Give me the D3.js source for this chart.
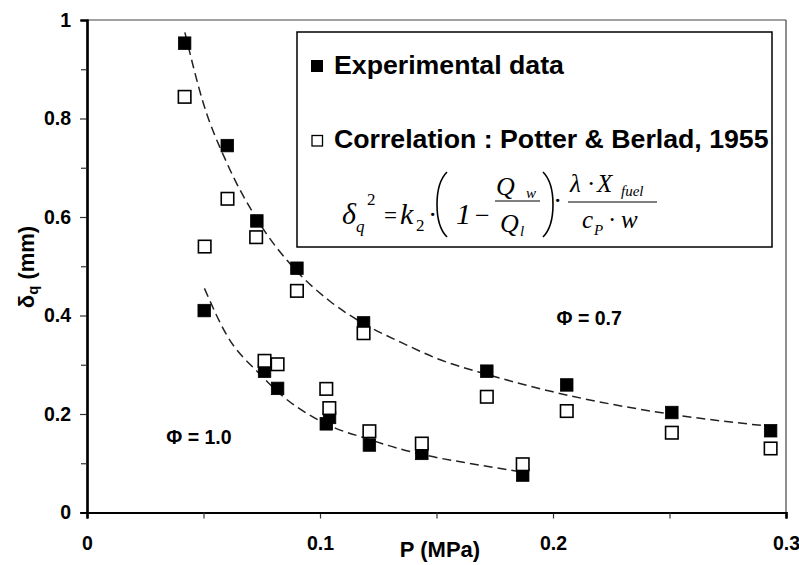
<!DOCTYPE html>
<html>
<head>
<meta charset="utf-8">
<script src="https://cdn.jsdelivr.net/npm/d3@7/dist/d3.min.js"></script>
<style>
  html, body { margin: 0; padding: 0; background: #fff; }
  svg { display: block; }
</style>
</head>
<body>
<svg id="chart" width="799" height="565"></svg>
<script>
// ---- data ----
const exp07P = [0.0419, 0.0602, 0.0729, 0.0901, 0.1187, 0.1716, 0.2059, 0.2510, 0.2934];
const exp07D = [0.953, 0.745, 0.592, 0.496, 0.385, 0.287, 0.259, 0.203, 0.166];
const cor07P = [0.0419, 0.0603, 0.0726, 0.0901, 0.1187, 0.1716, 0.2059, 0.2510, 0.2934];
const cor07D = [0.844, 0.637, 0.559, 0.450, 0.364, 0.235, 0.206, 0.162, 0.130];
const exp10P = [0.0503, 0.0762, 0.0818, 0.1027, 0.1041, 0.1212, 0.1437, 0.1870];
const exp10D = [0.410, 0.287, 0.252, 0.180, 0.193, 0.137, 0.120, 0.076];
const cor10P = [0.0505, 0.0762, 0.0818, 0.1027, 0.1040, 0.1212, 0.1437, 0.1870];
const cor10D = [0.540, 0.308, 0.301, 0.251, 0.212, 0.165, 0.140, 0.098];
// trend curves
const fit07P = [0.042, 0.05, 0.06, 0.073, 0.09, 0.104, 0.12, 0.135, 0.15, 0.172, 0.2, 0.25, 0.293];
const fit07D = [0.975, 0.83, 0.71, 0.595, 0.49, 0.43, 0.38, 0.345, 0.313, 0.28, 0.245, 0.2, 0.175];
const fit10P = [0.0504, 0.06, 0.0744, 0.0843, 0.0958, 0.1058, 0.1201, 0.1344, 0.1487, 0.165, 0.187];
const fit10D = [0.455, 0.36, 0.28, 0.235, 0.197, 0.173, 0.15, 0.129, 0.113, 0.099, 0.082];
const xMajor = [0, 0.1, 0.2, 0.3];
const xMajorLabels = ["0", "0.1", "0.2", "0.3"];
const xMinor = [0.05, 0.15, 0.25];
const yMajor = [0, 0.2, 0.4, 0.6, 0.8, 1];
const yMajorLabels = ["0", "0.2", "0.4", "0.6", "0.8", "1"];
const yMinor = [0.1, 0.3, 0.5, 0.7, 0.9];
const phiLabels = ["Φ = 0.7", "Φ = 1.0"];
const phiPos = [[0.2015, 0.38], [0.034, 0.14]];
const legendLabels = ["Experimental data", "Correlation : Potter & Berlad, 1955"];

// ---- layout ----
const L = 87, R = 786, T = 20, B = 512.5;
const sans = "'Liberation Sans', Arial, Helvetica, sans-serif";
const serif = "'Liberation Serif', 'Times New Roman', serif";
const svg = d3.select("#chart");
const x = d3.scaleLinear().domain([0, 0.3]).range([L, R]);
const y = d3.scaleLinear().domain([0, 1]).range([B, T]);

// frame (top & right thin)
svg.append("line").attr("x1", L).attr("x2", R).attr("y1", T).attr("y2", T)
  .attr("stroke", "#444").attr("stroke-width", 1.2);
svg.append("line").attr("x1", R).attr("x2", R).attr("y1", T).attr("y2", B)
  .attr("stroke", "#444").attr("stroke-width", 1.2);

// axes
const xAxis = d3.axisBottom(x).tickValues(xMajor).tickSize(6)
  .tickFormat((d, i) => xMajorLabels[i]).tickPadding(18);
const gx = svg.append("g").attr("transform", `translate(0,${B})`).call(xAxis);
const xAxisMinor = d3.axisBottom(x).tickValues(xMinor).tickSize(6).tickFormat("");
const gxm = svg.append("g").attr("transform", `translate(0,${B})`).call(xAxisMinor);
const yAxis = d3.axisLeft(y).tickValues(yMajor).tickSize(7)
  .tickFormat((d, i) => yMajorLabels[i]).tickPadding(9);
const gy = svg.append("g").attr("transform", `translate(${L},0)`).call(yAxis);
const yAxisMinor = d3.axisLeft(y).tickValues(yMinor).tickSize(6).tickFormat("");
const gym = svg.append("g").attr("transform", `translate(${L},0)`).call(yAxisMinor);
[gx, gxm, gy, gym].forEach(g => {
  g.select(".domain").attr("stroke", "#000").attr("stroke-width", 2.2);
  g.selectAll(".tick line").attr("stroke", "#333").attr("stroke-width", 1.2);
  g.selectAll("text").attr("font-family", sans).attr("font-weight", "bold")
    .attr("font-size", 19.5).attr("fill", "#000");
});
gx.selectAll("text").attr("dy", "0.71em");

// axis titles
svg.append("text").attr("x", 440).attr("y", 557).attr("text-anchor", "middle")
  .attr("font-family", sans).attr("font-weight", "bold").attr("font-size", 22)
  .text("P (MPa)");
const yt = svg.append("text").attr("transform", "translate(34,267) rotate(-90)")
  .attr("text-anchor", "middle").attr("font-family", sans).attr("font-weight", "bold")
  .attr("font-size", 22);
yt.append("tspan").text("δ");
yt.append("tspan").attr("font-size", 15).attr("dy", 4).text("q");
yt.append("tspan").attr("dy", -4).text(" (mm)");

// trend curves
const line = d3.line().x(d => x(d[0])).y(d => y(d[1])).curve(d3.curveMonotoneX);
[[fit07P, fit07D], [fit10P, fit10D]].forEach(([ps, ds]) => {
  svg.append("path").datum(ps.map((p, i) => [p, ds[i]]))
    .attr("d", line).attr("fill", "none").attr("stroke", "#222")
    .attr("stroke-width", 1.5).attr("stroke-dasharray", "9,5");
});

// markers
const S = 12.5;
function squares(ps, ds, filled) {
  svg.append("g").selectAll("rect").data(ps.map((p, i) => [p, ds[i]])).join("rect")
    .attr("x", d => x(d[0]) - S / 2).attr("y", d => y(d[1]) - S / 2)
    .attr("width", S).attr("height", S)
    .attr("fill", filled ? "#000" : "#fff")
    .attr("stroke", "#000").attr("stroke-width", filled ? 0.8 : 1.6);
}
squares(exp07P, exp07D, true);
squares(exp10P, exp10D, true);
squares(cor07P, cor07D, false);
squares(cor10P, cor10D, false);

// phi labels
phiLabels.forEach((t, i) => {
  svg.append("text").attr("x", x(phiPos[i][0])).attr("y", y(phiPos[i][1]))
    .attr("font-family", sans).attr("font-weight", "bold").attr("font-size", 19.5).text(t);
});

// legend
const lg = svg.append("g");
lg.append("rect").attr("x", 297).attr("y", 32).attr("width", 475).attr("height", 215)
  .attr("fill", "#fff").attr("stroke", "#000").attr("stroke-width", 1.5);
lg.append("rect").attr("x", 311).attr("y", 60).attr("width", 12).attr("height", 12).attr("fill", "#000");
lg.append("rect").attr("x", 312).attr("y", 135.5).attr("width", 10.5).attr("height", 10.5)
  .attr("fill", "#fff").attr("stroke", "#000").attr("stroke-width", 1.3);
lg.append("text").attr("x", 334).attr("y", 74).attr("font-family", sans).attr("font-weight", "bold")
  .attr("font-size", 26.7).text(legendLabels[0]);
lg.append("text").attr("x", 334).attr("y", 148).attr("font-family", sans).attr("font-weight", "bold")
  .attr("font-size", 26.7).text(legendLabels[1]);

// formula
function ft(tx, ty, s, size, italic) {
  lg.append("text").attr("x", tx).attr("y", ty).attr("font-family", serif)
    .attr("font-size", size).attr("font-style", italic ? "italic" : "normal").text(s);
}
ft(342, 224, "δ", 30, true);
ft(356, 232, "q", 17, true);
ft(367, 205, "2", 17, false);
ft(384, 223, "=", 23, false);
ft(400, 224, "k", 30, true);
ft(416, 231, "2", 17, false);
ft(428, 224, "·", 28, false);
ft(456, 224, "1", 30, true);
ft(475, 224, "−", 26, false);
ft(496, 195, "Q", 26, true);
ft(526, 198, "w", 15, true);
ft(500, 232, "Q", 26, true);
ft(520, 236, "l", 15, true);
ft(553, 210, "·", 28, false);
ft(570, 192, "λ", 25, true);
ft(587, 192, "·", 25, false);
ft(597, 192, "X", 25, true);
ft(621, 196, "fuel", 15, true);
ft(582, 228, "c", 25, true);
ft(594, 235, "P", 15, true);
ft(608, 228, "·", 25, false);
ft(621, 228, "w", 25, true);
lg.append("line").attr("x1", 495).attr("x2", 540).attr("y1", 201).attr("y2", 201)
  .attr("stroke", "#000").attr("stroke-width", 1.2);
lg.append("line").attr("x1", 568).attr("x2", 657).attr("y1", 202).attr("y2", 202)
  .attr("stroke", "#000").attr("stroke-width", 1.2);
lg.append("path").attr("d", "M447,172 C439,180 437,191 437,204.5 C437,218 439,229 447,237")
  .attr("fill", "none").attr("stroke", "#000").attr("stroke-width", 1.6);
lg.append("path").attr("d", "M543,172 C551,180 553,191 553,204.5 C553,218 551,229 543,237")
  .attr("fill", "none").attr("stroke", "#000").attr("stroke-width", 1.6);
</script>
</body>
</html>
